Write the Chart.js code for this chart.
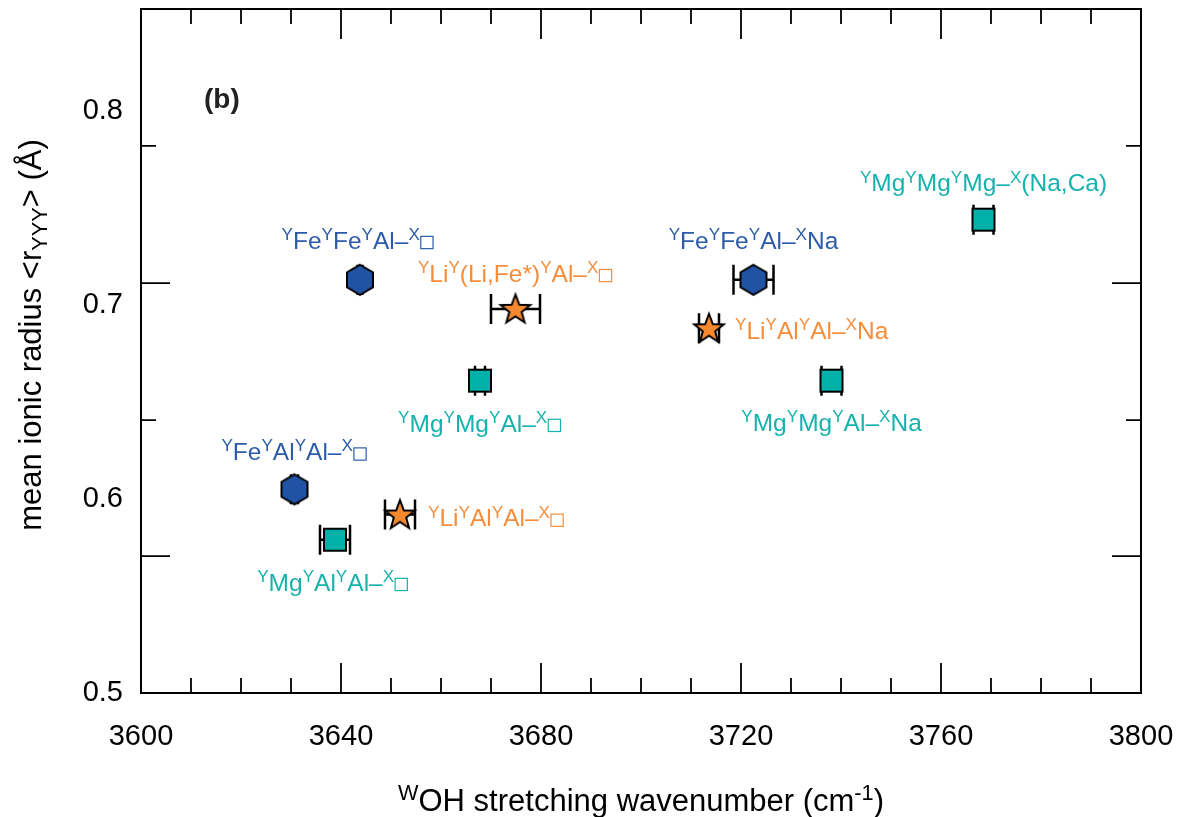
<!DOCTYPE html>
<html lang="en">
<head>
    <meta charset="UTF-8">
    <title>Mean ionic radius vs OH stretching wavenumber</title>
    <script src="https://cdn.jsdelivr.net/npm/chart.js"></script>
    <style>
        body { margin: 0; background: #fff; }
    </style>
</head>
<body>
    <canvas id="radiusChart" width="1184" height="817"></canvas>
    <script>
        // ^{..} = superscript, _{..} = subscript, □ = vacancy box
        const feLabels = ['^{Y}Fe^{Y}Fe^{Y}Al–^{X}□', '^{Y}Fe^{Y}Al^{Y}Al–^{X}□', '^{Y}Fe^{Y}Fe^{Y}Al–^{X}Na'];
        const feWavenumber = [3643.8, 3630.7, 3722.5];
        const feRadius = [0.713, 0.605, 0.713];
        const feError = [0.5, 0.7, 4.0];

        const liLabels = ['^{Y}Li^{Y}(Li,Fe*)^{Y}Al–^{X}□', '^{Y}Li^{Y}Al^{Y}Al–^{X}□', '^{Y}Li^{Y}Al^{Y}Al–^{X}Na'];
        const liWavenumber = [3674.9, 3651.8, 3713.6];
        const liRadius = [0.698, 0.592, 0.688];
        const liError = [4.9, 3.0, 2.0];

        const mgLabels = ['^{Y}Mg^{Y}Mg^{Y}Al–^{X}□', '^{Y}Mg^{Y}Al^{Y}Al–^{X}□', '^{Y}Mg^{Y}Mg^{Y}Mg–^{X}(Na,Ca)', '^{Y}Mg^{Y}Mg^{Y}Al–^{X}Na'];
        const mgWavenumber = [3667.8, 3638.8, 3768.5, 3738.1];
        const mgRadius = [0.661, 0.579, 0.744, 0.661];
        const mgError = [1.0, 3.0, 2.0, 2.0];

        const xTickLabels = [3600, 3640, 3680, 3720, 3760, 3800];
        const yTickLabels = [0.5, 0.6, 0.7, 0.8];
        // inner tick marks of the frame (they do not line up with the labels)
        const xMarks = [3610, 3620, 3630, 3640, 3650, 3660, 3670, 3680, 3690, 3700, 3710, 3720, 3730, 3740, 3750, 3760, 3770, 3780, 3790];
        const xMarksMajor = [3640, 3680, 3720, 3760];
        const yMarks = [0.5706, 0.6407, 0.7113, 0.782];
        const yMarksMajor = [0.5706, 0.7113];

        // label placement relative to the marker, in pixels: [dx, dy, align]
        const feLabelPos = [[-2, -40, 'center'], [0, -38, 'center'], [0, -40, 'center']];
        const liLabelPos = [[0, -36, 'center'], [28, 3, 'left'], [26, 2, 'left']];
        const mgLabelPos = [[0, 42, 'center'], [-2, 42, 'center'], [0, -37, 'center'], [0, 41, 'center']];

        const BLUE = '#2153a4', ORANGE = '#f5892f', TEAL = '#00b0a9';
        const BLUE_TXT = '#2c5ca9', ORANGE_TXT = '#f68d3b', TEAL_TXT = '#17b2ad';
        const FONT = '"Liberation Sans", Arial, sans-serif';
        const NARROW = '"Liberation Sans Narrow", "Liberation Sans", sans-serif';

        function makeMarker(kind, fill) {
            const c = document.createElement('canvas');
            c.width = 36; c.height = 36;
            const g = c.getContext('2d');
            g.beginPath();
            if (kind === 'hex') {
                for (let i = 0; i < 6; i++) {
                    const a = (-90 + 60 * i) * Math.PI / 180;
                    g.lineTo(18 + 15 * Math.cos(a), 18 + 15 * Math.sin(a));
                }
            } else if (kind === 'star') {
                for (let i = 0; i < 10; i++) {
                    const r = i % 2 === 0 ? 15.5 : 6.5;
                    const a = (-90 + 36 * i) * Math.PI / 180;
                    g.lineTo(18 + r * Math.cos(a), 19 + r * Math.sin(a));
                }
            } else {
                g.rect(7, 7, 22, 22);
            }
            g.closePath();
            g.fillStyle = fill;
            g.fill();
            g.lineWidth = 2;
            g.lineJoin = 'miter';
            g.strokeStyle = '#000';
            g.stroke();
            return c;
        }

        function toPoints(xs, ys, errs, labels, pos) {
            return xs.map((x, i) => ({ x: x, y: ys[i], err: errs[i], label: labels[i], pos: pos[i] }));
        }

        // split "^{Y}Fe_{YYY}" style strings into runs
        function parseRich(str) {
            const runs = [];
            const re = /(\^|_)\{([^}]*)\}|□|[^^_□]+/g;
            let m;
            while ((m = re.exec(str)) !== null) {
                if (m[1] === '^') runs.push({ t: m[2], k: 'sup' });
                else if (m[1] === '_') runs.push({ t: m[2], k: 'sub' });
                else if (m[0] === '□') runs.push({ t: '', k: 'box' });
                else runs.push({ t: m[0], k: 'n' });
            }
            return runs;
        }

        function drawRich(ctx, str, x, y, size, color, align, family) {
            const runs = parseRich(str);
            const small = size * 0.7;
            const widths = runs.map(r => {
                if (r.k === 'box') return size * 0.6;
                ctx.font = (r.k === 'n' ? size : small) + 'px ' + family;
                return ctx.measureText(r.t).width;
            });
            const total = widths.reduce((a, b) => a + b, 0);
            let cx = align === 'left' ? x : x - total / 2;
            const base = y + size * 0.36;
            ctx.fillStyle = color;
            ctx.strokeStyle = color;
            ctx.textAlign = 'left';
            ctx.textBaseline = 'alphabetic';
            runs.forEach((r, i) => {
                if (r.k === 'box') {
                    const s = size * 0.5;
                    ctx.lineWidth = 1.2;
                    ctx.strokeRect(cx + size * 0.04, base - s, s, s);
                } else {
                    ctx.font = (r.k === 'n' ? size : small) + 'px ' + family;
                    let dy = 0;
                    if (r.k === 'sup') dy = -size * 0.36;
                    if (r.k === 'sub') dy = size * 0.2;
                    ctx.fillText(r.t, cx, base + dy);
                }
                cx += widths[i];
            });
        }

        const decorations = {
            id: 'decorations',
            beforeDatasetsDraw(chart) {
                const { ctx, scales: { x, y } } = chart;
                ctx.save();
                ctx.strokeStyle = '#000';
                ctx.lineWidth = 2.5;
                chart.data.datasets.forEach(ds => {
                    ds.data.forEach(p => {
                        const x0 = x.getPixelForValue(p.x - p.err);
                        const x1 = x.getPixelForValue(p.x + p.err);
                        const py = y.getPixelForValue(p.y);
                        ctx.beginPath();
                        ctx.moveTo(x0, py); ctx.lineTo(x1, py);
                        ctx.moveTo(x0, py - 15); ctx.lineTo(x0, py + 15);
                        ctx.moveTo(x1, py - 15); ctx.lineTo(x1, py + 15);
                        ctx.stroke();
                    });
                });
                ctx.restore();
            },
            afterDraw(chart) {
                const { ctx, chartArea: a, scales: { x, y } } = chart;
                ctx.save();
                // frame
                ctx.strokeStyle = '#000';
                ctx.lineWidth = 2;
                ctx.strokeRect(a.left, a.top, a.right - a.left, a.bottom - a.top);
                // inward tick marks
                ctx.lineWidth = 1.8;
                ctx.beginPath();
                xMarks.forEach(v => {
                    const px = x.getPixelForValue(v);
                    const len = xMarksMajor.includes(v) ? 30 : 15;
                    ctx.moveTo(px, a.bottom); ctx.lineTo(px, a.bottom - len);
                    ctx.moveTo(px, a.top); ctx.lineTo(px, a.top + len);
                });
                yMarks.forEach(v => {
                    const py = y.getPixelForValue(v);
                    const len = yMarksMajor.includes(v) ? 29 : 15;
                    ctx.moveTo(a.left, py); ctx.lineTo(a.left + len, py);
                    ctx.moveTo(a.right, py); ctx.lineTo(a.right - len, py);
                });
                ctx.stroke();

                // point labels
                const colors = [BLUE_TXT, ORANGE_TXT, TEAL_TXT];
                chart.data.datasets.forEach((ds, di) => {
                    ds.data.forEach(p => {
                        const px = x.getPixelForValue(p.x) + p.pos[0];
                        const py = y.getPixelForValue(p.y) + p.pos[1];
                        drawRich(ctx, p.label, px, py, 24.5, colors[di], p.pos[2], FONT);
                    });
                });

                // panel tag
                ctx.fillStyle = '#222';
                ctx.font = 'bold 28px ' + FONT;
                ctx.textAlign = 'left';
                ctx.textBaseline = 'middle';
                ctx.fillText('(b)', 204, 100);

                // axis titles
                drawRich(ctx, '^{W}OH stretching wavenumber (cm^{-1})', (a.left + a.right) / 2, 800, 31, '#000', 'center', NARROW);
                ctx.save();
                ctx.translate(30, 335);
                ctx.rotate(-Math.PI / 2);
                drawRich(ctx, 'mean ionic radius <r_{YYY}> (Å)', 0, 0, 31, '#000', 'center', FONT);
                ctx.restore();
                ctx.restore();
            }
        };

        const ctx = document.getElementById('radiusChart').getContext('2d');
        new Chart(ctx, {
            type: 'scatter',
            data: {
                datasets: [
                    { label: 'Fe', data: toPoints(feWavenumber, feRadius, feError, feLabels, feLabelPos), pointStyle: makeMarker('hex', BLUE), pointRadius: 14 },
                    { label: 'Li', data: toPoints(liWavenumber, liRadius, liError, liLabels, liLabelPos), pointStyle: makeMarker('star', ORANGE), pointRadius: 14 },
                    { label: 'Mg', data: toPoints(mgWavenumber, mgRadius, mgError, mgLabels, mgLabelPos), pointStyle: makeMarker('rect', TEAL), pointRadius: 14 }
                ]
            },
            options: {
                responsive: false,
                animation: false,
                layout: { autoPadding: false, padding: { top: 9, right: 43, left: 0, bottom: 0 } },
                scales: {
                    x: {
                        type: 'linear',
                        min: 3600,
                        max: 3800,
                        afterBuildTicks: s => { s.ticks = xTickLabels.map(v => ({ value: v })); },
                        afterFit: s => { s.height = 124; s.paddingLeft = 0; s.paddingRight = 0; },
                        ticks: {
                            color: '#000',
                            font: { size: 29, family: NARROW },
                            padding: 27,
                            maxRotation: 0,
                            callback: v => String(v)
                        },
                        grid: { display: false, drawTicks: false },
                        border: { display: false }
                    },
                    y: {
                        min: 0.5,
                        max: 0.8526,
                        afterBuildTicks: s => { s.ticks = yTickLabels.map(v => ({ value: v })); },
                        afterFit: s => { s.width = 141; s.paddingTop = 0; s.paddingBottom = 0; },
                        ticks: {
                            color: '#000',
                            font: { size: 29, family: FONT, lineHeight: 0.5 },
                            padding: 18,
                            callback: v => v.toFixed(1)
                        },
                        grid: { display: false, drawTicks: false },
                        border: { display: false }
                    }
                },
                plugins: {
                    legend: { display: false },
                    tooltip: { enabled: false }
                }
            },
            plugins: [decorations]
        });
    </script>
</body>
</html>
